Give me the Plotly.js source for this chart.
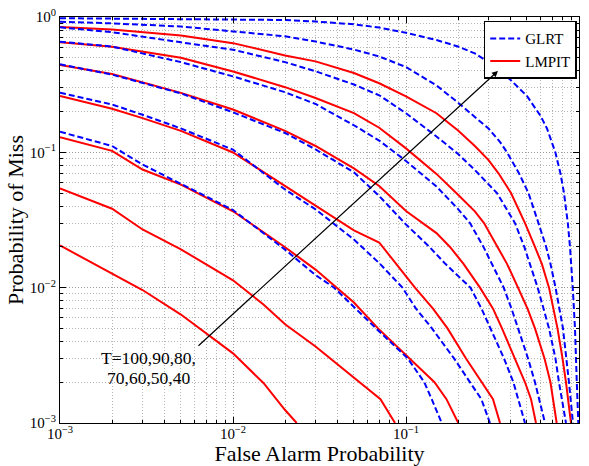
<!DOCTYPE html>
<html>
<head>
<meta charset="utf-8">
<script src="https://cdn.plot.ly/plotly-3.0.1.min.js"></script>
<style>html,body{margin:0;padding:0;background:#fff;}#chart{width:589px;height:466px;}</style>
</head>
<body>
<div id="chart"></div>
<script>
// ---- Data (False alarm probability, probability of miss) ----
const seriesNames = ['GLRT', 'LMPIT'];
const thresholds = ['T=100', 'T=90', 'T=80', 'T=70', 'T=60', 'T=50', 'T=40'];

// LMPIT curves (solid red)
const lmpitT100X = [0.001,0.0015,0.002,0.003,0.005,0.007,0.01,0.015,0.02,0.02334];
const lmpitT100Y = [0.0205,0.01547,0.01262,0.00961,0.00633,0.00461,0.00327,0.001975,0.001247,0.001];
const lmpitT90X = [0.001,0.002,0.003,0.005,0.007,0.01,0.015,0.02,0.03,0.05,0.0712,0.0864];
const lmpitT90Y = [0.0542,0.0383,0.0269,0.0192,0.01485,0.01133,0.00752,0.00537,0.00368,0.00216,0.0015,0.001];
const lmpitT80X = [0.001,0.002,0.003,0.005,0.01,0.02,0.03,0.05,0.0689,0.1041,0.1461,0.1714,0.2005];
const lmpitT80Y = [0.1291,0.1026,0.0747,0.0578,0.0367,0.0199,0.0136,0.00776,0.005,0.003,0.002,0.0015,0.001];
const lmpitT70X = [0.001,0.002,0.003,0.005,0.01,0.02,0.03,0.05,0.07,0.1,0.1127,0.1432,0.1738,0.2222,0.2732,0.3184,0.3495];
const lmpitT70Y = [0.2608,0.210,0.179,0.1442,0.0997,0.0566,0.0403,0.02654,0.02157,0.0123,0.01,0.007,0.005,0.003,0.002,0.0015,0.001];
const lmpitT60X = [0.001,0.002,0.005,0.01,0.02,0.03,0.05,0.07,0.1,0.15,0.1796,0.215,0.2677,0.3184,0.3588,0.4238,0.4874,0.528,0.564];
const lmpitT60Y = [0.4418,0.379,0.2749,0.2073,0.1442,0.1114,0.076,0.0564,0.0368,0.0253,0.02,0.015,0.01,0.007,0.005,0.003,0.002,0.0015,0.001];
const lmpitT50X = [0.001,0.002,0.005,0.01,0.02,0.03,0.05,0.07,0.1,0.15,0.2,0.25,0.2825,0.34,0.3836,0.444,0.504,0.5566,0.632,0.684,0.743];
const lmpitT50Y = [0.650,0.602,0.4995,0.396,0.303,0.252,0.195,0.152,0.107,0.0693,0.0486,0.0366,0.03,0.02,0.015,0.01,0.007,0.005,0.003,0.002,0.001];
const lmpitT40X = [0.001,0.002,0.005,0.01,0.02,0.03,0.05,0.07,0.1,0.15,0.2,0.25,0.3,0.3425,0.4045,0.4874,0.5566,0.610,0.671,0.751,0.803,0.841,0.899];
const lmpitT40Y = [0.844,0.807,0.731,0.641,0.520,0.470,0.386,0.324,0.259,0.1945,0.145,0.1114,0.0877,0.07,0.05,0.03,0.02,0.015,0.01,0.005,0.003,0.002,0.001];

// GLRT curves (dashed blue)
const glrtT100X = [0.001,0.002,0.003,0.005,0.01,0.02,0.03,0.0384,0.0511,0.0671,0.1024,0.1276,0.1408,0.1608];
const glrtT100Y = [0.142,0.1114,0.0812,0.0585,0.0375,0.0191,0.0124,0.01,0.007,0.005,0.003,0.002,0.0015,0.001];
const glrtT90X = [0.001,0.002,0.003,0.005,0.01,0.02,0.03,0.05,0.0707,0.0954,0.1142,0.1413,0.1895,0.2331,0.2726,0.3058];
const glrtT90Y = [0.2758,0.2257,0.1894,0.1502,0.1046,0.0531,0.0379,0.0227,0.015,0.01,0.007,0.005,0.003,0.002,0.0015,0.001];
const glrtT80X = [0.001,0.002,0.005,0.01,0.02,0.03,0.05,0.07,0.1,0.1367,0.1688,0.236,0.2732,0.3067,0.3685,0.4176,0.4874];
const glrtT80Y = [0.447,0.3753,0.2726,0.1976,0.139,0.1051,0.0711,0.0476,0.0293,0.02,0.015,0.01,0.007,0.005,0.003,0.002,0.001];
const glrtT70X = [0.001,0.002,0.005,0.01,0.02,0.03,0.05,0.07,0.1,0.15,0.2,0.2344,0.2805,0.3143,0.367,0.4072,0.4458,0.5075,0.5566,0.636];
const glrtT70Y = [0.657,0.605,0.464,0.364,0.278,0.2276,0.1585,0.1221,0.0863,0.0559,0.0381,0.03,0.02,0.015,0.01,0.007,0.005,0.003,0.002,0.001];
const glrtT60X = [0.001,0.002,0.005,0.01,0.02,0.03,0.05,0.07,0.1,0.15,0.2,0.25,0.3357,0.4266,0.483,0.52,0.577,0.671,0.731,0.766,0.841];
const glrtT60Y = [0.839,0.772,0.650,0.573,0.464,0.397,0.317,0.264,0.1945,0.131,0.0973,0.074,0.05,0.03,0.02,0.015,0.01,0.005,0.003,0.002,0.001];
const glrtT50X = [0.001,0.002,0.005,0.01,0.02,0.03,0.05,0.07,0.1,0.15,0.2,0.25,0.3,0.35,0.3836,0.4498,0.5105,0.583,0.646,0.684,0.732,0.808,0.848,0.875,0.923];
const glrtT50Y = [0.923,0.897,0.851,0.785,0.720,0.659,0.575,0.511,0.427,0.312,0.233,0.1824,0.150,0.119,0.1,0.07,0.05,0.03,0.02,0.015,0.01,0.005,0.003,0.002,0.001];
const glrtT40X = [0.001,0.003,0.01,0.02,0.03,0.05,0.07,0.1,0.15,0.2,0.25,0.3,0.35,0.4,0.5,0.6,0.653,0.730,0.781,0.819,0.862,0.887,0.920,0.948,0.971,0.991];
const glrtT40Y = [0.980,0.973,0.965,0.950,0.926,0.883,0.835,0.764,0.676,0.605,0.538,0.465,0.393,0.345,0.261,0.1855,0.15,0.1,0.07,0.05,0.03,0.02,0.01,0.005,0.002,0.001];

// Axis ticks
const tickVals = [0.001, 0.01, 0.1, 1];
const tickText = ['10<sup>\u22123</sup>', '10<sup>\u22122</sup>', '10<sup>\u22121</sup>', '10<sup>0</sup>'];

// Annotation (arrow from the label towards growing curves)
const arrowTail = [0.00619, 0.00364];
const arrowTip = [0.340, 0.399];
const labelLines = ['T=100,90,80,', '70,60,50,40'];

// ---- Build traces ----
const lmpitX = [lmpitT100X, lmpitT90X, lmpitT80X, lmpitT70X, lmpitT60X, lmpitT50X, lmpitT40X];
const lmpitY = [lmpitT100Y, lmpitT90Y, lmpitT80Y, lmpitT70Y, lmpitT60Y, lmpitT50Y, lmpitT40Y];
const glrtX = [glrtT100X, glrtT90X, glrtT80X, glrtT70X, glrtT60X, glrtT50X, glrtT40X];
const glrtY = [glrtT100Y, glrtT90Y, glrtT80Y, glrtT70Y, glrtT60Y, glrtT50Y, glrtT40Y];

const traces = [];
lmpitX.forEach((xs, i) => {
  traces.push({
    x: xs, y: lmpitY[i], type: 'scatter', mode: 'lines',
    name: seriesNames[1], legendgroup: 'lmpit', legendrank: 2,
    showlegend: i === 0, hovertext: thresholds[i],
    line: {color: '#ff0000', width: 2}
  });
});
glrtX.forEach((xs, i) => {
  traces.push({
    x: xs, y: glrtY[i], type: 'scatter', mode: 'lines',
    name: seriesNames[0], legendgroup: 'glrt', legendrank: 1,
    showlegend: i === 0, hovertext: thresholds[i],
    line: {color: '#0000ff', width: 2, dash: '6px,3px'}
  });
});

const FONT = '"Liberation Serif", "Times New Roman", Times, serif';

function axis(title) {
  return {
    type: 'log', range: [-3, 0],
    tickmode: 'array', tickvals: tickVals, ticktext: tickText,
    ticks: 'inside', ticklen: 6, tickwidth: 1, tickcolor: '#000',
    showline: true, linecolor: '#000', linewidth: 1, mirror: 'allticks',
    showgrid: true, gridcolor: '#9a9a9a', gridwidth: 1, griddash: '1px,2px',
    zeroline: false,
    minor: {dtick: 'D1', ticks: 'inside', ticklen: 3, tickcolor: '#000',
            showgrid: true, gridcolor: '#b5b5b5', gridwidth: 1, griddash: '1px,2px'},
    tickfont: {family: FONT, size: 15, color: '#000'},
    title: {text: title, font: {family: FONT, size: 22, color: '#000'}}
  };
}

const xaxis = axis('False Alarm Probability');
xaxis.title.standoff = 4;
xaxis.ticklabelstandoff = -3;
const yaxis = axis('Probability of Miss');
yaxis.title.standoff = 0;

const layout = {
  width: 589, height: 466,
  margin: {l: 60, r: 10, t: 17, b: 43},
  paper_bgcolor: '#fff', plot_bgcolor: '#fff',
  font: {family: FONT, size: 15, color: '#000'},
  showlegend: true,
  legend: {
    x: 0.9956, y: 0.991, xanchor: 'right', yanchor: 'top',
    bgcolor: '#fff', bordercolor: '#000', borderwidth: 1.5,
    font: {family: FONT, size: 15, color: '#000'},
    tracegroupgap: 0, itemwidth: 30
  },
  xaxis: xaxis, yaxis: yaxis,
  annotations: [
    {
      x: Math.log10(arrowTip[0]), y: Math.log10(arrowTip[1]),
      ax: Math.log10(arrowTail[0]), ay: Math.log10(arrowTail[1]),
      xref: 'x', yref: 'y', axref: 'x', ayref: 'y',
      text: '', showarrow: true, arrowhead: 2, arrowsize: 1, arrowwidth: 1.2,
      arrowcolor: '#000', standoff: 0, startstandoff: 0
    },
    {
      x: -2.4913, y: -2.5198, xref: 'x', yref: 'y', text: labelLines[0],
      showarrow: false, font: {family: FONT, size: 17.5, color: '#000'}
    },
    {
      x: -2.4913, y: -2.6676, xref: 'x', yref: 'y', text: labelLines[1],
      showarrow: false, font: {family: FONT, size: 17.5, color: '#000'}
    }
  ]
};

Plotly.newPlot('chart', traces, layout, {displayModeBar: false, staticPlot: true});
</script>
</body>
</html>
